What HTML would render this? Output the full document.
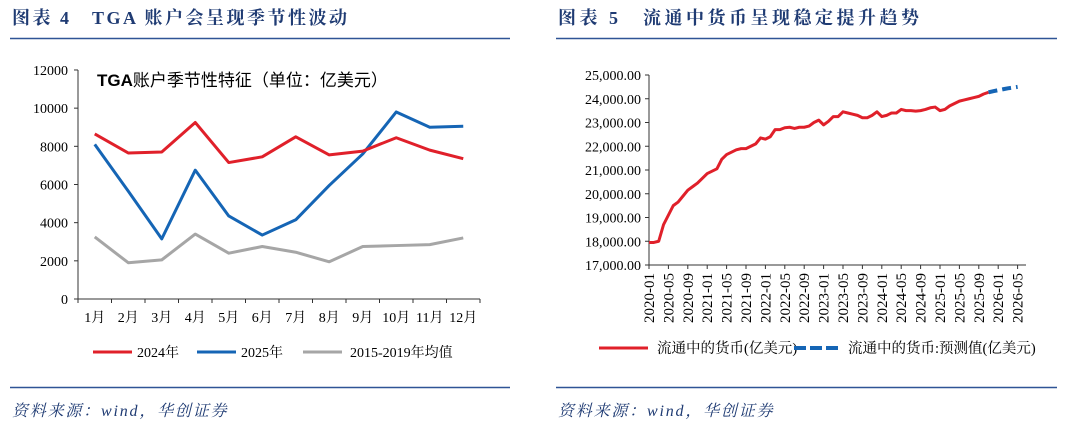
<!DOCTYPE html>
<html><head><meta charset="utf-8"><style>
body{margin:0;background:#fff;width:1080px;height:426px;overflow:hidden}
svg text{font-family:"Liberation Serif","Noto Serif CJK SC",serif}
</style></head><body>
<svg id="s" width="1080" height="426" xmlns="http://www.w3.org/2000/svg">
<g font-weight="bold" fill="#1f3b73" font-size="18" letter-spacing="2.5">
<text x="12" y="24">图表 4　TGA 账户会呈现季节性波动</text>
<text x="558" y="24" letter-spacing="3.5">图表 5　流通中货币呈现稳定提升趋势</text>
</g>
<line x1="10" y1="38.5" x2="510" y2="38.5" stroke="#2f5496" stroke-width="1.5"/>
<line x1="556" y1="38.5" x2="1057" y2="38.5" stroke="#2f5496" stroke-width="1.5"/>
<line x1="10" y1="387.5" x2="510" y2="387.5" stroke="#2f5496" stroke-width="1.5"/>
<line x1="556" y1="387.5" x2="1057" y2="387.5" stroke="#2f5496" stroke-width="1.5"/>
<g font-style="italic" fill="#1f3b73" font-size="16" letter-spacing="1.8">
<text x="12" y="416">资料来源：wind，华创证券</text>
<text x="558" y="416">资料来源：wind，华创证券</text>
</g>
<text x="97" y="86" font-size="17" font-weight="bold" style="font-family:'Liberation Sans','Noto Sans CJK SC',sans-serif">TGA<tspan font-weight="normal">账户季节性特征（单位：亿美元）</tspan></text>
<g id="L"></g><g id="R"></g>
</svg>
<script>
var ns="http://www.w3.org/2000/svg";
function el(g,t,a,txt){var e=document.createElementNS(ns,t);for(var k in a)e.setAttribute(k,a[k]);if(txt!=null)e.textContent=txt;document.getElementById(g).appendChild(e);return e;}
var x0=78,y0=299,xs=33.5;
el("L","line",{x1:x0,y1:70,x2:x0,y2:y0,stroke:"#333"});
el("L","line",{x1:x0,y1:y0,x2:x0+12*xs,y2:y0,stroke:"#333"});
for(var i=0;i<=6;i++){var y=y0-i*38.17;el("L","line",{x1:x0-4,y1:y,x2:x0,y2:y,stroke:"#333"});el("L","text",{x:x0-10,y:y+5,"text-anchor":"end","font-size":"14"},String(i*2000));}
for(var i=0;i<=12;i++){el("L","line",{x1:x0+i*xs,y1:y0,x2:x0+i*xs,y2:y0+4,stroke:"#333"});}
for(var i=0;i<12;i++)el("L","text",{x:x0+xs/2+i*xs,y:y0+23,"text-anchor":"middle","font-size":"14"},(i+1)+"月");
var S=[[[3250,1900,2050,3400,2400,2750,2450,1950,2750,2800,2850,3200],"#a6a6a6"],
[[8100,5650,3150,6750,4350,3350,4150,5950,7600,9800,9000,9050],"#1565b5"],
[[8650,7650,7700,9250,7150,7450,8500,7550,7750,8450,7800,7350],"#e0202a"]];
S.forEach(function(s){var p=s[0].map(function(v,i){return (x0+xs/2+i*xs)+","+(y0-v*38.17/2000)}).join(" ");el("L","polyline",{points:p,fill:"none",stroke:s[1],"stroke-width":3,"stroke-linejoin":"round"});});
[[93,"#e0202a","2024年",137],[197,"#1565b5","2025年",241],[303,"#a6a6a6","2015-2019年均值",350]].forEach(function(l){el("L","line",{x1:l[0],y1:352,x2:l[0]+39,y2:352,stroke:l[1],"stroke-width":3});el("L","text",{x:l[3],y:357,"font-size":"14"},l[2]);});
var rx0=649,ry0=265,rxs=4.85,ry=function(v){return ry0-(v-17000)*23.75/1000};
el("R","line",{x1:rx0,y1:75,x2:rx0,y2:ry0,stroke:"#333"});
el("R","line",{x1:rx0,y1:ry0,x2:1026,y2:ry0,stroke:"#333"});
for(var i=0;i<=8;i++){var y=ry(17000+i*1000);el("R","line",{x1:rx0-4,y1:y,x2:rx0,y2:y,stroke:"#333"});el("R","text",{x:rx0-8,y:y+5,"text-anchor":"end","font-size":"14"},(17+i)+",000.00");}
for(var i=0;i<=19;i++){var x=rx0+i*4*rxs;el("R","line",{x1:x,y1:ry0,x2:x,y2:ry0+4,stroke:"#333"});var yr=2020+Math.floor(i/3),m=["01","05","09"][i%3];el("R","text",{x:x+5,y:ry0+8,"text-anchor":"end","font-size":"15",transform:"rotate(-90 "+(x+5)+" "+(ry0+8)+")"},yr+"-"+m);}
var d=[17950,17950,18000,18700,19100,19500,19650,19900,20150,20300,20450,20650,20850,20950,21050,21450,21650,21750,21850,21900,21900,22000,22100,22350,22300,22400,22700,22700,22780,22800,22750,22800,22800,22850,23000,23100,22900,23050,23250,23250,23450,23400,23350,23300,23200,23200,23300,23450,23250,23300,23400,23400,23550,23500,23500,23480,23500,23550,23620,23650,23500,23550,23700,23800,23900,23950,24000,24050,24100,24200,24270];
el("R","polyline",{points:d.map(function(v,i){return (rx0+i*rxs)+","+ry(v)}).join(" "),fill:"none",stroke:"#e0202a","stroke-width":3,"stroke-linejoin":"round"});
var b=[24270,24320,24360,24400,24440,24470,24500];
el("R","polyline",{points:b.map(function(v,i){return (rx0+(70+i)*rxs)+","+ry(v)}).join(" "),fill:"none",stroke:"#1565b5","stroke-width":4,"stroke-dasharray":"9,5"});
el("R","line",{x1:599,y1:348,x2:648,y2:348,stroke:"#e0202a","stroke-width":3});
el("R","text",{x:657,y:353,"font-size":"14.5"},"流通中的货币(亿美元)");
el("R","line",{x1:794,y1:348,x2:838,y2:348,stroke:"#1565b5","stroke-width":4,"stroke-dasharray":"12,4"});
el("R","text",{x:848,y:353,"font-size":"14.5"},"流通中的货币:预测值(亿美元)");
</script>
</body></html>
